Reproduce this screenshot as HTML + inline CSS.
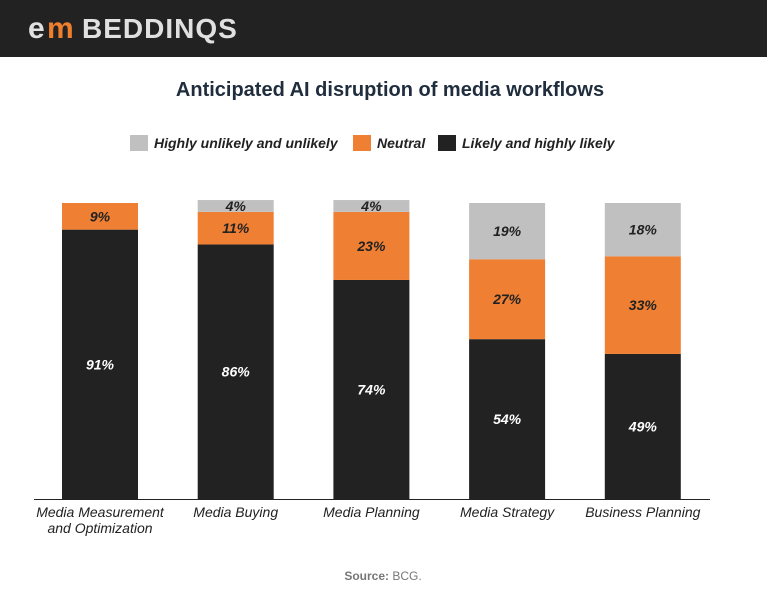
<!DOCTYPE html>
<html><head><meta charset="utf-8"><style>
body{margin:0;width:767px;height:586px;background:#fff;font-family:"Liberation Sans",sans-serif;overflow:hidden}
</style></head><body>
<svg width="767" height="586">
<rect x="0" y="0" width="767" height="57" fill="#222"/>
<g>
<text x="28" y="38" font-size="30" font-weight="bold" fill="#e0e0e0" font-family="Liberation Sans,sans-serif">e</text>
<text x="47" y="38" font-size="30" font-weight="bold" fill="#ee7f2d" font-family="Liberation Sans,sans-serif">m</text>
<text x="82" y="38" font-size="28" font-weight="bold" fill="#e0e0e0" font-family="Liberation Sans,sans-serif" letter-spacing="1">BEDDINQS</text>
</g>
<text x="390" y="96" text-anchor="middle" font-size="20" font-weight="bold" fill="#1f2d3d">Anticipated AI disruption of media workflows</text>
<g font-size="14" font-style="italic" font-weight="bold" fill="#222">
<rect x="130" y="135" width="18" height="16" fill="#c0c0c0"/>
<text x="154" y="148">Highly unlikely and unlikely</text>
<rect x="353" y="135" width="18" height="16" fill="#ee7f33"/>
<text x="377" y="148">Neutral</text>
<rect x="438" y="135" width="18" height="16" fill="#222"/>
<text x="462" y="148">Likely and highly likely</text>
</g>
<g id="bars"></g>
<line x1="34" y1="499.5" x2="710" y2="499.5" stroke="#222" stroke-width="1"/>
<text x="383" y="580" text-anchor="middle" font-size="12" fill="#777"><tspan font-weight="bold">Source:</tspan> BCG.</text>
</svg>
<script>
const categories=["Media Measurement|and Optimization","Media Buying","Media Planning","Media Strategy","Business Planning"];
const likely=[91,86,74,54,49];
const neutral=[9,11,23,27,33];
const unlikely=[0,4,4,19,18];
const ns="http://www.w3.org/2000/svg";
const g=document.getElementById("bars");
const base=499,scale=2.96,x0=100,step=135.7,bw=76;
const yv=v=>base-v*scale;
const xc=i=>x0+i*step;
function mk(tag,a){const e=document.createElementNS(ns,tag);for(const k in a)e.setAttribute(k,a[k]);g.appendChild(e);return e;}
categories.forEach((c,i)=>{
  const series=[[likely[i],"#222","#fff","likely"],[neutral[i],"#ee7f33","#222","neutral"],[unlikely[i],"#c0c0c0","#222","unlikely"]];
  let acc=0;
  series.forEach(([v,fill,tc,nm])=>{
    if(v<=0)return;
    const r=mk("rect",{x:xc(i)-bw/2,y:yv(acc+v),width:bw,height:v*scale,fill:fill});
    
    
    const t=mk("text",{x:xc(i),y:yv(acc+v/2)+5,"text-anchor":"middle","font-size":14,"font-weight":"bold","font-style":"italic",fill:tc});
    t.textContent=v+"%";
    
    
    acc+=v;
  });
  c.split("|").forEach((ln,j)=>{
    const t=mk("text",{x:xc(i),y:517+j*16,"text-anchor":"middle","font-size":14,"font-style":"italic",fill:"#222"});
    t.textContent=ln;
    
    
  });
});
</script>
</body></html>
